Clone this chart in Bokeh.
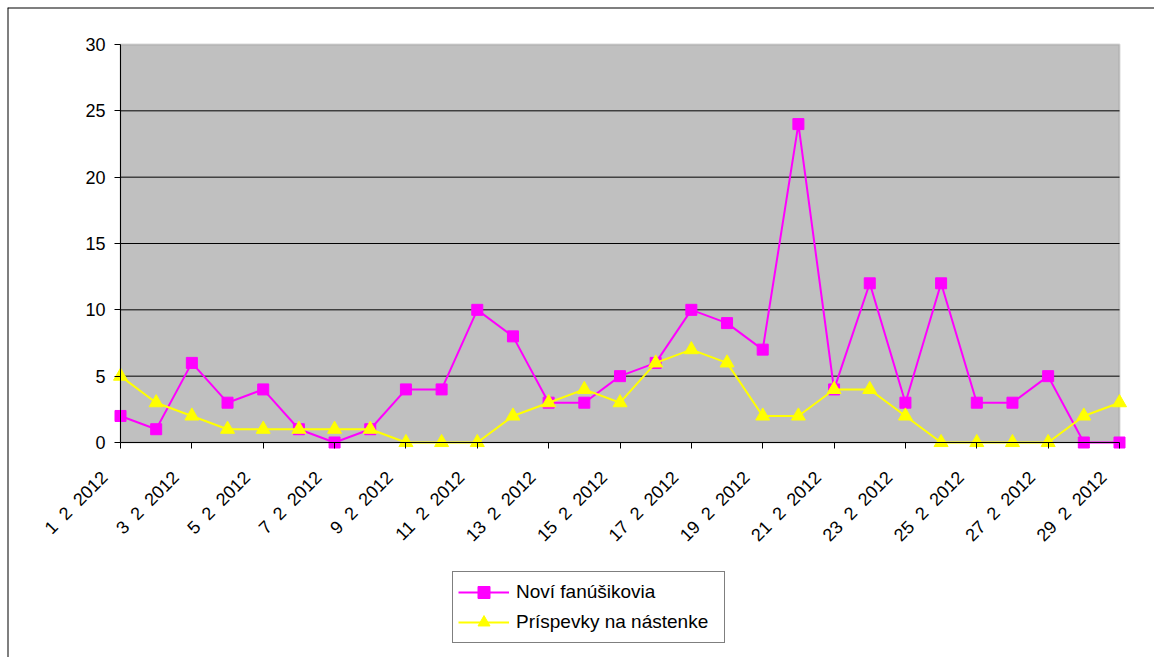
import math

from bokeh.plotting import figure
from bokeh.models import (ColumnDataSource, FixedTicker, Range1d, Legend, LegendItem,
                          BoxAnnotation, LinearAxis, Span)
from bokeh.embed import file_html
from bokeh.resources import INLINE

# February 2012, one value per day
days = list(range(1, 30))
novi_fanusikovia = [2, 1, 6, 3, 4, 1, 0, 1, 4, 4, 10, 8, 3, 3, 5, 6, 10, 9, 7, 24,
                    4, 12, 3, 12, 3, 3, 5, 0, 0]
prispevky = [5, 3, 2, 1, 1, 1, 1, 1, 0, 0, 0, 2, 3, 4, 3, 6, 7, 6, 2, 2,
             4, 4, 2, 0, 0, 0, 0, 2, 3]
label_days = list(range(1, 30, 2))
day_labels = {d: f"{d}\u00a0 2\u00a0 2012" for d in label_days}
y_ticks = [0, 5, 10, 15, 20, 25, 30]
grid_ticks = [5, 10, 15, 20, 25]

FONT = "Liberation Sans"
W, H = 1154, 657

# page layout in pixels: the frame is the outer chart box, the plot area sits inside it
BOX_L, BOX_T = 7, 7
AREA_L, AREA_R, AREA_T, AREA_B = 120, 1119, 44, 442
X0, X1 = days[0], days[-1]
Y0, Y1 = y_ticks[0], y_ticks[-1]

px_per_day = (AREA_R - AREA_L) / (X1 - X0)
px_per_unit = (AREA_B - AREA_T) / (Y1 - Y0)
x_start = X0 - (AREA_L - BOX_L) / px_per_day
x_end = X1 + (W - AREA_R) / px_per_day
y_start = Y0 - (H - AREA_B) / px_per_unit
y_end = Y1 + (AREA_T - BOX_T) / px_per_unit

# date labels sit a little left of their tick marks
label_shift = 16 / px_per_day

src = ColumnDataSource(dict(day=days, fans=novi_fanusikovia, posts=prispevky))
grid_src = ColumnDataSource(dict(y=grid_ticks, x0=[X0] * len(grid_ticks),
                                 x1=[X1] * len(grid_ticks)))

p = figure(width=W, height=H, output_backend="svg", toolbar_location=None,
           x_range=Range1d(x_start, x_end), y_range=Range1d(y_start, y_end),
           x_axis_location=None, y_axis_location=None,
           min_border_left=BOX_L, min_border_top=BOX_T,
           min_border_right=0, min_border_bottom=0)
p.extra_x_ranges = {"labels": Range1d(x_start + label_shift, x_end + label_shift)}

p.background_fill_color = "white"
p.border_fill_color = "white"
p.outline_line_color = None
p.xgrid.visible = False
p.ygrid.visible = False

# outer chart box: only its left and top edges fall inside the page
p.add_layout(Span(location=x_start, dimension="height", line_color="black", line_width=2))
p.add_layout(Span(location=y_end, dimension="width", line_color="black", line_width=2))

# grey plot area
p.add_layout(BoxAnnotation(left=X0, right=X1, bottom=Y0, top=Y1,
                           fill_color="#C0C0C0", fill_alpha=1,
                           line_color="#808080", line_width=2, level="image"))

# horizontal gridlines across the plot area
p.segment(x0="x0", x1="x1", y0="y", y1="y", source=grid_src,
          line_color="black", line_width=1, level="underlay")

# value axis
yax = LinearAxis(fixed_location=X0, bounds=(Y0, Y1), ticker=FixedTicker(ticks=y_ticks))
yax.axis_line_color = "black"
yax.major_tick_line_color = "black"
yax.major_tick_out = 6
yax.major_tick_in = 0
yax.minor_tick_line_color = None
yax.major_label_standoff = 9
yax.major_label_text_font = FONT
yax.major_label_text_font_size = "18px"
yax.major_label_text_color = "black"
p.add_layout(yax, "left")

# category axis: line and tick marks
xax = LinearAxis(fixed_location=Y0, bounds=(X0, X1), ticker=FixedTicker(ticks=label_days))
xax.axis_line_color = "black"
xax.major_tick_line_color = "black"
xax.major_tick_out = 6
xax.major_tick_in = 0
xax.minor_tick_line_color = None
xax.major_label_text_color = None
p.add_layout(xax, "below")

# category axis: slanted date labels
lax = LinearAxis(x_range_name="labels", fixed_location=Y0,
                 ticker=FixedTicker(ticks=label_days))
lax.major_label_overrides = day_labels
lax.major_label_orientation = math.pi / 4
lax.axis_line_color = None
lax.major_tick_line_color = None
lax.minor_tick_line_color = None
lax.major_tick_out = 0
lax.major_tick_in = 0
lax.major_label_standoff = 32
lax.major_label_text_font = FONT
lax.major_label_text_font_size = "18px"
lax.major_label_text_color = "black"
p.add_layout(lax, "below")

# series
l1 = p.line("day", "fans", source=src, line_color="#FF00FF", line_width=2)
m1 = p.scatter("day", "fans", source=src, marker="square", size=11,
               fill_color="#FF00FF", line_color="#FF00FF")
l2 = p.line("day", "posts", source=src, line_color="#FFFF00", line_width=2)
m2 = p.scatter("day", "posts", source=src, marker="triangle", size=14,
               fill_color="#FFFF00", line_color="#FFFF00")

legend = Legend(items=[
    LegendItem(label="Noví fanúšikovia", renderers=[l1, m1]),
    LegendItem(label="Príspevky na nástenke", renderers=[l2, m2]),
], location=(445, 14))
legend.label_text_font = FONT
legend.label_text_font_size = "19px"
legend.label_text_color = "black"
legend.border_line_color = "black"
legend.border_line_width = 1
legend.background_fill_color = "white"
legend.background_fill_alpha = 1
legend.padding = 5
legend.margin = 0
legend.spacing = 0
legend.glyph_width = 51
legend.glyph_height = 30
legend.label_height = 30
legend.label_width = 203
legend.label_standoff = 7
p.add_layout(legend, "center")

open("out.html", "w").write(file_html(p, INLINE))
